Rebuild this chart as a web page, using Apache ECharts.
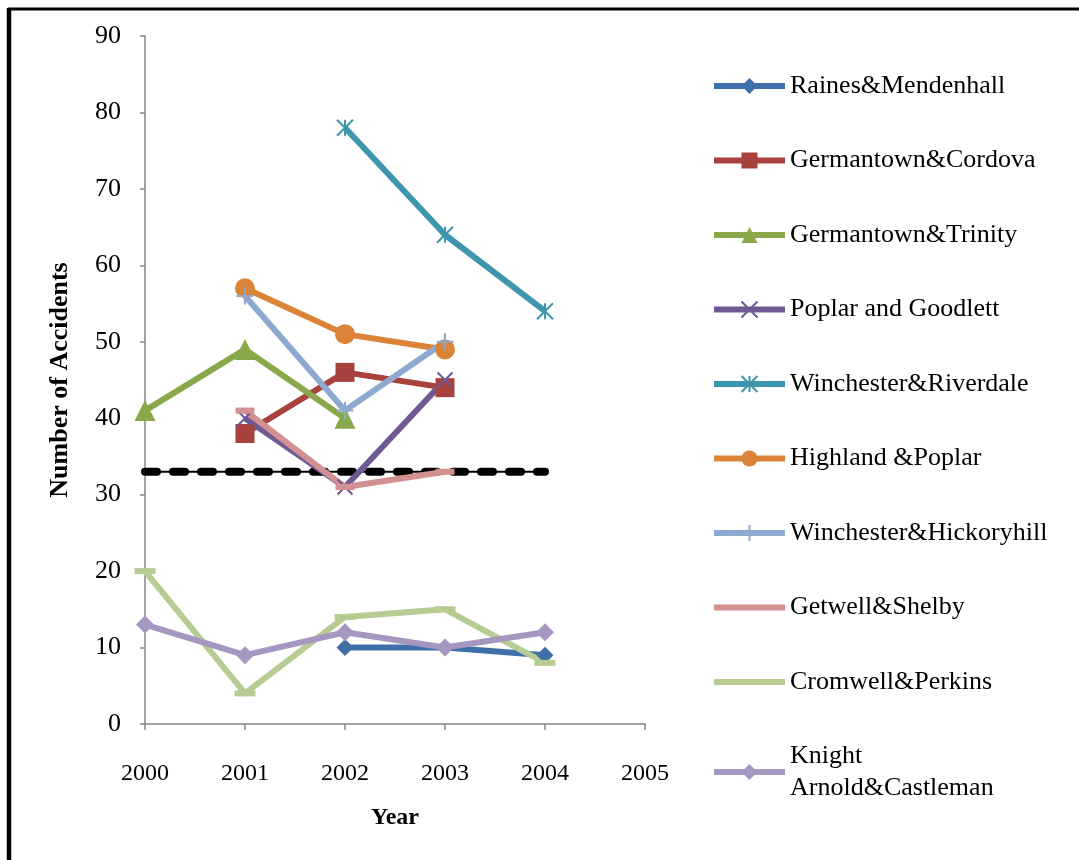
<!DOCTYPE html>
<html>
<head>
<meta charset="utf-8">
<script src="https://cdn.jsdelivr.net/npm/echarts@6/dist/echarts.min.js"></script>
<style>html,body{margin:0;padding:0;background:#fff;}#c{width:1079px;height:860px;}</style>
</head>
<body>
<div id="c"></div>
<script>
// ---- data ----
var yearTicks = [2000, 2001, 2002, 2003, 2004, 2005];
var seriesNames = ['Raines&Mendenhall','Germantown&Cordova','Germantown&Trinity','Poplar and Goodlett','Winchester&Riverdale','Highland &Poplar','Winchester&Hickoryhill','Getwell&Shelby','Cromwell&Perkins','Knight Arnold&Castleman'];
var rainesMendenhall   = [[2002,10],[2003,10],[2004,9]];
var germantownCordova  = [[2001,38],[2002,46],[2003,44]];
var germantownTrinity  = [[2000,41],[2001,49],[2002,40]];
var poplarGoodlett     = [[2001,40],[2002,31],[2003,45]];
var winchesterRiverdale= [[2002,78],[2003,64],[2004,54]];
var highlandPoplar     = [[2001,57],[2002,51],[2003,49]];
var winchesterHickory  = [[2001,56],[2002,41],[2003,50]];
var getwellShelby      = [[2001,41],[2002,31],[2003,33]];
var cromwellPerkins    = [[2000,20],[2001,4],[2002,14],[2003,15],[2004,8]];
var knightCastleman    = [[2000,13],[2001,9],[2002,12],[2003,10],[2004,12]];
var averageLine        = [[2000,33],[2004,33]];

var FONT = "'Liberation Serif','Times New Roman',serif";
var colors = ['#3F6FA8','#A8423F','#88A84A','#6F5894','#3D96AE','#DB8438','#8EA8D0','#D39090','#B6CC93','#A597C0'];
var datasets = [rainesMendenhall,germantownCordova,germantownTrinity,poplarGoodlett,winchesterRiverdale,highlandPoplar,winchesterHickory,getwellShelby,cromwellPerkins,knightCastleman];
var symbols = ['diamond','rect','triangle','path://M0,0L10,10M10,0L0,10','path://M0,0L10,10M10,0L0,10M5,0L5,10','circle','path://M5,0L5,10M0,5L10,5','rect','rect','diamond'];
var sizes = [17,19,21,15,16,20,17,[19,6],[21,6],18];
var strokeSym = [false,false,false,true,true,false,true,false,false,false];

var series = [];
series.push({type:'line', name:'avgThin', data:averageLine, symbol:'none', silent:true,
  lineStyle:{color:'#000', width:2}, z:1});
series.push({type:'line', name:'avgDash', data:averageLine, symbol:'none', silent:true,
  lineStyle:{color:'#000', width:8, type:[12,16], cap:'round'}, z:1});
for (var i=0;i<seriesNames.length;i++){
  series.push({
    type:'line', name:seriesNames[i], data:datasets[i],
    symbol:symbols[i], symbolSize:sizes[i],
    lineStyle:{color:colors[i], width:6},
    itemStyle:{color:colors[i], borderColor:colors[i], borderWidth: strokeSym[i]?2:0},
    z:2
  });
}

var barIcon = 'path://M0,0L71,0L71,6L0,6Z';
var legendData = seriesNames.slice(0,9).map(function(n){
  return (n==='Getwell&Shelby' || n==='Cromwell&Perkins') ? {name:n, icon:barIcon} : {name:n};
});

var legendText = {fontFamily:FONT, fontSize:26, color:'#000', lineHeight:30};
var chart = echarts.init(document.getElementById('c'), null, {renderer:'canvas'});
chart.setOption({
  animation:false,
  backgroundColor:'#fff',
  textStyle:{fontFamily:FONT},
  grid:{left:145, right:434, top:36, bottom:136},
  xAxis:{type:'value', min:2000, max:2005, interval:1,
    name:'Year', nameLocation:'middle', nameGap:82,
    nameTextStyle:{fontFamily:FONT, fontSize:24, fontWeight:'bold', color:'#000'},
    axisLine:{show:true, lineStyle:{color:'#868686', width:1.5}},
    axisTick:{show:true, length:6, lineStyle:{color:'#868686', width:1.5}},
    splitLine:{show:false},
    axisLabel:{fontFamily:FONT, fontSize:24, color:'#000', margin:38,
      formatter:function(v){return yearTicks.indexOf(v)>=0?String(v):'';}}
  },
  yAxis:{type:'value', min:0, max:90, interval:10,
    name:'Number of Accidents', nameLocation:'middle', nameGap:72,
    nameTextStyle:{fontFamily:FONT, fontSize:26, fontWeight:'bold', color:'#000'},
    axisLine:{show:true, lineStyle:{color:'#868686', width:1.5}},
    axisTick:{show:true, length:5, lineStyle:{color:'#868686', width:1.5}},
    splitLine:{show:false},
    axisLabel:{fontFamily:FONT, fontSize:26, color:'#000', margin:24}
  },
  legend:[{
    orient:'vertical', left:706, top:66, itemWidth:71, itemHeight:20, itemGap:44.5,
    lineStyle:{width:6},
    data:legendData,
    textStyle:legendText
  },{
    orient:'vertical', left:706, top:719, itemWidth:71, itemHeight:20,
    lineStyle:{width:6},
    data:[seriesNames[9]],
    formatter:function(n){return 'Knight\nArnold&Castleman';},
    textStyle:{fontFamily:FONT, fontSize:26, color:'#000', lineHeight:32, padding:[32,0,0,0]}
  }],
  graphic:[
    {type:'line', shape:{x1:8, y1:9, x2:1079, y2:9}, style:{stroke:'#000', lineWidth:3}},
    {type:'line', shape:{x1:9, y1:8, x2:9, y2:860}, style:{stroke:'#000', lineWidth:4.5}}
  ],
  series:series
});
</script>
</body>
</html>
